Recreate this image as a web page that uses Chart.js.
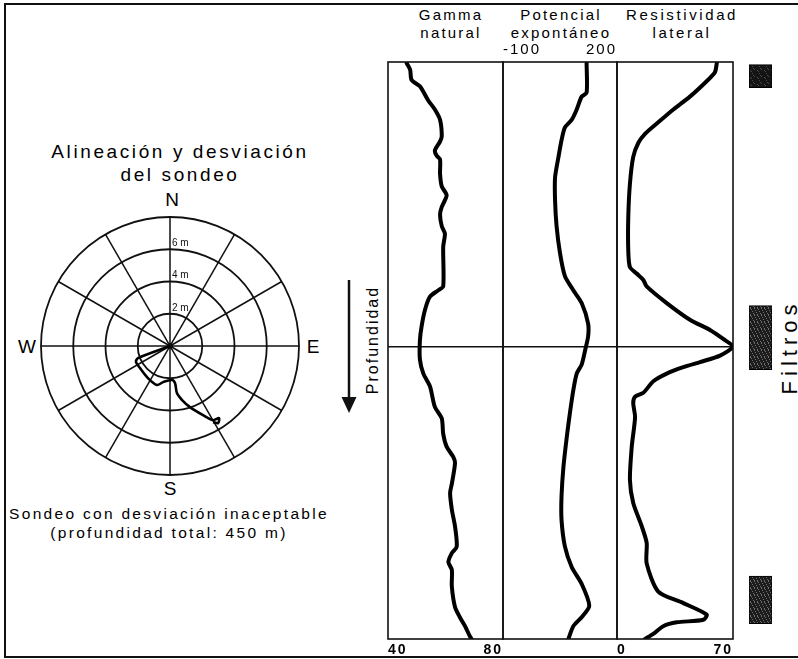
<!DOCTYPE html>
<html lang="es">
<head>
<meta charset="utf-8">
<title>Alineación y desviación del sondeo</title>
<script src="https://cdn.jsdelivr.net/npm/chart.js@4.4.1/dist/chart.umd.min.js"></script>
<style>
  html, body { margin: 0; padding: 0; background: #fff; }
  body { width: 798px; height: 659px; position: relative; overflow: hidden;
         font-family: "Liberation Sans", Arial, sans-serif; color: #000; }
  .frame { position: absolute; left: 4px; top: 3px; width: 830px; height: 655px;
           border: 2px solid #111; border-right: none; box-sizing: border-box; }
  .txt { position: absolute; white-space: nowrap; text-align: center; transform: translate(-50%, -50%); }
  .rot { transform: translate(-50%, -50%) rotate(-90deg); }
  canvas { position: absolute; }
</style>
</head>
<body>
<div class="frame"></div>

<!-- left panel texts -->
<div class="txt" style="left:180px;top:163px;font-size:19px;letter-spacing:2.6px;line-height:23px;">Alineación y desviación<br>del sondeo</div>
<div class="txt" style="left:172px;top:200px;font-size:19px;">N</div>
<div class="txt" style="left:170px;top:489px;font-size:19px;">S</div>
<div class="txt" style="left:27px;top:347px;font-size:19px;">W</div>
<div class="txt" style="left:313px;top:347px;font-size:19px;">E</div>
<div class="txt" style="left:169px;top:523px;font-size:15.5px;letter-spacing:2.3px;line-height:19px;">Sondeo con desviación inaceptable<br>(profundidad total: 450 m)</div>

<!-- log headers -->
<div class="txt" style="left:451px;top:24px;font-size:15px;letter-spacing:2.2px;line-height:18px;">Gamma<br>natural</div>
<div class="txt" style="left:561px;top:24px;font-size:15px;letter-spacing:2.2px;line-height:18px;">Potencial<br>expontáneo</div>
<div class="txt" style="left:682px;top:24px;font-size:15px;letter-spacing:2.6px;line-height:18px;">Resistividad<br>lateral</div>

<div class="txt rot" style="left:373px;top:340px;font-size:16px;letter-spacing:2px;">Profundidad</div>
<svg style="position:absolute;left:340px;top:275px;" width="20" height="145">
  <line x1="9" y1="5" x2="9" y2="125" stroke="#111" stroke-width="2.5"/>
  <polygon points="1.5,122 16.5,122 9,138" fill="#111"/>
</svg>
<div class="txt rot" style="left:790px;top:347px;font-size:22px;letter-spacing:5px;">Filtros</div>

<canvas id="polar" width="298" height="298" style="left:21px;top:197px;"></canvas>
<canvas id="gamma" width="127" height="607" style="left:382px;top:56px;"></canvas>
<canvas id="sp" width="126" height="607" style="left:497px;top:38px;"></canvas>
<canvas id="res" width="128" height="607" style="left:611px;top:56px;"></canvas>
<canvas id="filters" width="35" height="589" style="left:743px;top:56px;"></canvas>

<script>
// ---- planta del sondeo (m) ----
const ringRadii = [2, 4, 6, 8];
const ringLabels = ['2 m', '4 m', '6 m', ''];
const spokeAngles = [0, 30, 60, 90, 120, 150];
const pathX = [0, -1.99, -2.11, -1.86, -1.37, -0.81, -0.43, 0.12, 0.31, 0.43, 0.75, 1.24, 2.05, 2.67, 3.04, 2.98, 2.67];
const pathY = [0, -0.75, -0.99, -1.37, -1.99, -2.42, -2.24, -2.11, -2.30, -2.92, -3.35, -3.79, -4.29, -4.60, -4.47, -4.78, -4.72];

// ---- diagrafías (profundidad en m) ----
const gammaDepth = [1, 6, 14, 19, 30, 37, 45, 58, 62, 69, 73, 76, 87, 97, 104, 113, 119, 128, 134, 144,
  175, 178, 183, 193, 206, 217, 232, 243, 253, 269, 278, 290, 300, 308, 313, 329, 336, 349, 362, 378,
  383, 390, 396, 409, 425, 433, 440, 448, 450];
const gammaValues = [46.5, 47.7, 48.2, 51.1, 54.0, 56.3, 58.1, 58.7, 58.1, 56.3, 56.9, 58.1, 58.1, 58.7, 60.4, 58.7, 58.1, 58.7, 59.8, 59.2,
  59.2, 57.5, 54.6, 52.9, 51.7, 51.1, 51.1, 52.3, 54.6, 56.3, 58.7, 59.2, 60.4, 62.7, 63.3, 62.2, 61.6, 62.2, 63.3, 63.9,
  62.2, 61.0, 62.2, 62.2, 63.3, 65.0, 66.8, 68.5, 69.1];

const spDepth = [1, 24, 27, 37, 45, 51, 61, 74, 90, 108, 128, 149, 167, 178, 188, 204, 214, 225, 236, 243,
  256, 274, 292, 316, 339, 357, 378, 394, 407, 424, 433, 440, 450];
const spValues = [120, 120, 107, 94, 81, 63, 54, 46, 37, 37, 41, 50, 63, 85, 107, 124, 124, 116, 107, 94,
  85, 76, 68, 59, 54, 54, 63, 81, 107, 127, 107, 85, 72];

const resDepth = [1, 8, 15, 27, 37, 48, 56, 63, 74, 95, 121, 147, 160, 165, 170, 175, 188, 201, 209, 216,
  222, 229, 234, 238, 243, 249, 258, 261, 266, 277, 300, 326, 344, 362, 375, 391, 413, 422, 431, 435,
  437, 440, 446, 450];
const resValues = [60.2, 59.1, 54.1, 44.0, 34.0, 24.0, 16.9, 12.9, 9.8, 7.8, 6.8, 6.8, 7.8, 11.9, 15.9, 17.9, 30.0, 44.0, 56.1, 64.1,
  69.8, 62.2, 50.1, 40.0, 30.0, 21.9, 15.9, 10.9, 9.8, 10.9, 8.9, 7.8, 9.8, 14.9, 17.9, 17.9, 24.9, 40.0, 54.1, 52.1,
  36.0, 27.9, 21.9, 16.9];

const markerDepth = 222;
const filterTop = [2, 190, 401];
const filterBottom = [20, 240, 438];

const FONT = '"Liberation Sans", Arial, sans-serif';

// rejilla polar: círculos y radios
const polarGrid = {
  id: 'polarGrid',
  beforeDatasetsDraw(chart) {
    const { ctx, scales: { x, y } } = chart;
    const cx = x.getPixelForValue(0), cy = y.getPixelForValue(0);
    ctx.save();
    ctx.strokeStyle = '#111';
    ctx.lineWidth = 1.8;
    ringRadii.forEach((r) => {
      const rp = x.getPixelForValue(r) - cx;
      ctx.beginPath();
      ctx.arc(cx, cy, rp, 0, Math.PI * 2);
      ctx.stroke();
    });
    const rMax = ringRadii[ringRadii.length - 1];
    ctx.lineWidth = 1.5;
    spokeAngles.forEach((a) => {
      const t = a * Math.PI / 180;
      const dx = Math.sin(t) * rMax, dy = Math.cos(t) * rMax;
      ctx.beginPath();
      ctx.moveTo(x.getPixelForValue(-dx), y.getPixelForValue(-dy));
      ctx.lineTo(x.getPixelForValue(dx), y.getPixelForValue(dy));
      ctx.stroke();
    });
    ctx.fillStyle = '#111';
    ctx.font = '10px ' + FONT;
    ctx.textAlign = 'left';
    ctx.textBaseline = 'bottom';
    ringRadii.forEach((r, i) => {
      if (ringLabels[i]) ctx.fillText(ringLabels[i], cx + 2, y.getPixelForValue(r) - 1);
    });
    ctx.beginPath();
    ctx.arc(cx, cy, 3, 0, Math.PI * 2);
    ctx.fill();
    ctx.restore();
  },
};

new Chart(document.getElementById('polar'), {
  type: 'scatter',
  data: {
    datasets: [{
      data: pathX.map((v, i) => ({ x: v, y: pathY[i] })),
      showLine: true,
      borderColor: '#000',
      borderWidth: 2.6,
      pointRadius: 0,
      tension: 0.3,
    }],
  },
  options: {
    responsive: false,
    animation: false,
    events: [],
    layout: { padding: 20 },
    plugins: { legend: { display: false }, tooltip: { enabled: false } },
    scales: {
      x: { display: false, min: -8, max: 8 },
      y: { display: false, min: -8, max: 8 },
    },
  },
  plugins: [polarGrid],
});

// marco de cada pista y espaciado de letras
const trackFrame = {
  id: 'trackFrame',
  beforeUpdate(chart) { chart.ctx.letterSpacing = '2px'; },
  beforeDraw(chart) { chart.ctx.letterSpacing = '2px'; },
  afterDraw(chart) {
    const { ctx, chartArea: a } = chart;
    ctx.save();
    ctx.strokeStyle = '#111';
    ctx.lineWidth = 1.6;
    ctx.strokeRect(a.left, a.top, a.right - a.left, a.bottom - a.top);
    ctx.restore();
  },
};

function logChart(id, depths, values, xmin, xmax, tickPos, tickWeight, tickSize) {
  return new Chart(document.getElementById(id), {
    type: 'scatter',
    data: {
      datasets: [
        {
          data: depths.map((d, i) => ({ x: values[i], y: d })),
          showLine: true,
          borderColor: '#000',
          borderWidth: 4,
          pointRadius: 0,
          tension: 0.25,
          borderJoinStyle: 'round',
          borderCapStyle: 'round',
        },
        {
          data: [{ x: xmin, y: markerDepth }, { x: xmax, y: markerDepth }],
          showLine: true,
          borderColor: '#111',
          borderWidth: 1.5,
          pointRadius: 0,
        },
      ],
    },
    options: {
      responsive: false,
      animation: false,
      events: [],
      layout: { padding: 6 },
      plugins: { legend: { display: false }, tooltip: { enabled: false } },
      scales: {
        x: {
          type: 'linear',
          position: tickPos,
          min: xmin,
          max: xmax,
          grid: { display: false, drawTicks: false },
          border: { display: false },
          afterBuildTicks: (s) => { s.ticks = [{ value: xmin }, { value: xmax }]; },
          afterFit: (s) => { s.height = 18; },
          ticks: {
            align: 'inner',
            padding: 3,
            color: '#000',
            font: { family: FONT, size: tickSize, weight: tickWeight },
            callback: (v) => String(v),
          },
        },
        y: { display: false, min: 0, max: 450, reverse: true },
      },
    },
    plugins: [trackFrame],
  });
}

logChart('gamma', gammaDepth, gammaValues, 40, 80, 'bottom', 'bold', 14);
logChart('sp', spDepth, spValues, -100, 200, 'top', 'normal', 15);
logChart('res', resDepth, resValues, 0, 70, 'bottom', 'bold', 14);

// textura de los filtros
function speckle(base, dot, step) {
  const c = document.createElement('canvas');
  c.width = 7; c.height = 7;
  const g = c.getContext('2d');
  g.fillStyle = base;
  g.fillRect(0, 0, 7, 7);
  g.fillStyle = dot;
  for (let i = 0; i < 49; i += step) g.fillRect((i * 3) % 7, Math.floor(i / 7), 1, 1);
  return g.createPattern(c, 'repeat');
}
const filterFill = [speckle('#141414', '#4a4a4a', 12), speckle('#1c1c1c', '#6e6e6e', 6), speckle('#1c1c1c', '#6e6e6e', 6)];

new Chart(document.getElementById('filters'), {
  type: 'bar',
  data: {
    labels: ['F'],
    datasets: filterTop.map((t, i) => ({
      data: [[t, filterBottom[i]]],
      backgroundColor: filterFill[i],
      borderColor: '#000',
      borderWidth: 1,
      borderSkipped: false,
      grouped: false,
      barPercentage: 1,
      categoryPercentage: 1,
    })),
  },
  options: {
    responsive: false,
    animation: false,
    events: [],
    layout: { padding: 6 },
    plugins: { legend: { display: false }, tooltip: { enabled: false } },
    scales: {
      x: { display: false },
      y: { display: false, min: 0, max: 450, reverse: true },
    },
  },
});
</script>
</body>
</html>
